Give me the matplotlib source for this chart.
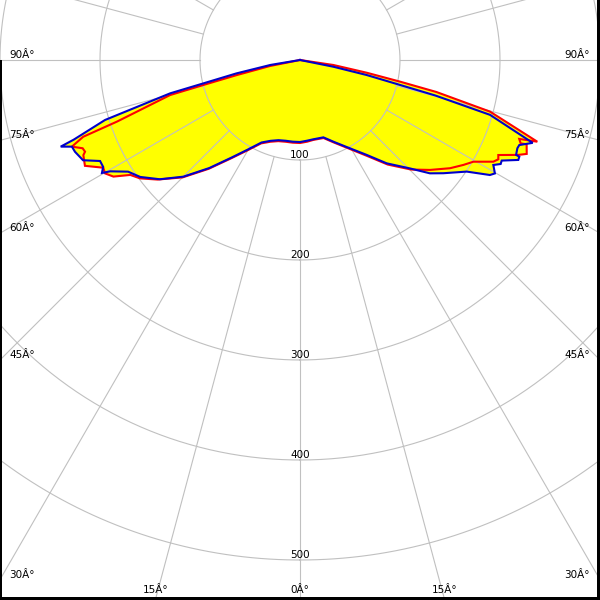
import numpy as np
import matplotlib
matplotlib.use("Agg")
import matplotlib.pyplot as plt
from matplotlib.patches import Rectangle

# ---- data: luminous intensity (cd) vs angle from nadir (deg) ----
blue_left_deg = [0, 5, 10, 15, 20, 25, 30, 35, 40, 45, 49.6, 53.8, 57, 59.6, 60.3, 61.5,
                 63.2, 65.2, 67.8, 69.2, 70.1, 70.6, 72.9, 75.6, 76.4, 78.1, 80.5, 90]
blue_left_cd = [82, 82, 82, 83, 86, 91, 103, 119, 141, 165, 184, 198, 205, 220, 228, 224,
                224, 239, 243, 244, 254.5, 240, 204, 134, 99.5, 65, 30, 0]

red_left_deg = [0, 5, 10, 15, 20, 25, 30, 35, 40, 45, 50, 53.5, 55.9, 58, 59.8, 61.3,
                63.8, 66.3, 66.9, 67.9, 69.2, 70.5, 71.4, 74.9, 75.5, 76.6, 78.7, 90]
red_left_cd = [83, 83, 83, 84, 87, 92, 104, 120, 142, 166, 186, 199, 205, 220, 225.5, 224.3,
               239.7, 236.6, 233.7, 234.6, 244, 230, 193, 134.6, 100, 64.8, 30.6, 0]

blue_right_deg = [0, 5, 9.5, 16.8, 22.2, 29.5, 35.1, 40, 45.4, 48.9, 51.7, 56.2, 58.8, 59.8,
                  61.5, 62.6, 63.5, 65.4, 66.2, 66.3, 67.9, 68.8, 70.4, 73.9, 75.3, 76,
                  77.3, 78.6, 90]
blue_right_cd = [82, 81, 80.4, 80.8, 88.2, 101.5, 116, 134.9, 154.4, 172.4, 182.7, 200.6, 222,
                 225.5, 220, 226, 225.4, 240.1, 239.7, 236, 234.6, 235.2, 247, 197.8, 140,
                 103, 68.4, 34, 0]

red_right_deg = [0, 5, 9.5, 16.8, 22.2, 29.5, 35.1, 40, 45.4, 49.8, 54.2, 57.3, 59.6, 62.25,
                 63.4, 64.4, 66.5, 67.5, 69.6, 69.3, 70.2, 71, 74.8, 76.8, 77.8, 79.2, 81.5, 90]
red_right_cd = [83, 82, 81, 81.5, 89, 102.5, 117.5, 136.5, 156, 170.3, 185, 194.2, 201, 218.4,
                221.8, 219.9, 238, 245.4, 241.8, 235.9, 233, 251, 196.9, 140, 102, 67.9, 33.7, 0]

ring_values = [100, 200, 300, 400, 500]
spoke_angles = [-90, -75, -60, -45, -30, -15, 0, 15, 30, 45, 60, 75, 90]
spoke_labels = ["90Â°", "75Â°", "60Â°", "45Â°", "30Â°", "15Â°", "0Â°",
                "15Â°", "30Â°", "45Â°", "60Â°", "75Â°", "90Â°"]

# ---- layout (pixels) ----
W, H, DPI = 600, 600, 100
CX, CY = 300, 60          # centre of the diagram, pixels from top-left
RMAX = 700                # polar axis radius in px (1 cd = 1 px)
PT = 72.0 / DPI           # points per pixel

GRID = "#c0c0c0"
RED = "#ff0000"
BLUE = "#0000cc"
YELLOW = "#ffff00"

fig = plt.figure(figsize=(W / DPI, H / DPI), dpi=DPI, facecolor="white")
ax = fig.add_axes([(CX - RMAX) / W, (H - CY - RMAX) / H, 2 * RMAX / W, 2 * RMAX / H],
                  projection="polar")
ax.set_theta_zero_location("S")
ax.set_theta_direction(1)
ax.set_ylim(0, RMAX)
ax.set_axis_off()


def closed_curve(left_deg, left_cd, right_deg, right_cd):
    th = np.concatenate([-np.asarray(left_deg, float)[::-1], np.asarray(right_deg, float)])
    r = np.concatenate([np.asarray(left_cd, float)[::-1], np.asarray(right_cd, float)])
    return np.deg2rad(th), r


th_b, r_b = closed_curve(blue_left_deg, blue_left_cd, blue_right_deg, blue_right_cd)
th_r, r_r = closed_curve(red_left_deg, red_left_cd, red_right_deg, red_right_cd)

ax.fill(th_r, r_r, color=YELLOW, lw=0, zorder=1)
ax.fill(th_b, r_b, color=YELLOW, lw=0, zorder=1)

# grid: rings and spokes (spokes start at first ring)
full = np.linspace(0, 2 * np.pi, 721)
for rv in ring_values:
    ax.plot(full, np.full_like(full, rv), color=GRID, lw=0.8, zorder=2)
for a in range(0, 360, 15):
    t = np.deg2rad(a)
    ax.plot([t, t], [ring_values[0], RMAX], color=GRID, lw=0.8, zorder=2)

ax.plot(th_r, r_r, color=RED, lw=1.5, zorder=3, solid_joinstyle="miter")
ax.plot(th_b, r_b, color=BLUE, lw=1.5, zorder=4, solid_joinstyle="miter")

FS = 7.5
# ring labels
for rv in ring_values:
    ax.annotate(str(rv), (0, rv), xytext=(0, 2 * PT), textcoords="offset points",
                ha="center", va="baseline", fontsize=FS, zorder=5)

# spoke labels at frame edges
for a, lab in zip(spoke_angles, spoke_labels):
    s, c = np.sin(np.deg2rad(abs(a))), np.cos(np.deg2rad(abs(a)))
    r_side = (W - CX) / s if s > 1e-9 else np.inf
    r_bot = (H - CY) / c if c > 1e-9 else np.inf
    r_exit = min(r_side, r_bot)
    if r_side <= r_bot:
        if a < 0:
            off, ha = (9 * PT, 2 * PT), "left"
        else:
            off, ha = (-10 * PT, 2 * PT), "right"
    else:
        off, ha = (0, 7 * PT), "center"
    ax.annotate(lab, (np.deg2rad(a), r_exit), xytext=off, textcoords="offset points",
                ha=ha, va="baseline", fontsize=FS, zorder=5, annotation_clip=False)

# frame lines
fig.add_artist(Rectangle((597 / W, 0), 3 / W, 1, transform=fig.transFigure,
                         color="black", lw=0, zorder=10))
fig.add_artist(Rectangle((0, 0), 1, 3 / H, transform=fig.transFigure,
                         color="black", lw=0, zorder=10))
fig.add_artist(Rectangle((0, 0), 2 / W, (H - CY) / H, transform=fig.transFigure,
                         color="black", lw=0, zorder=10))

fig.savefig("out.png", dpi=DPI, facecolor="white")
